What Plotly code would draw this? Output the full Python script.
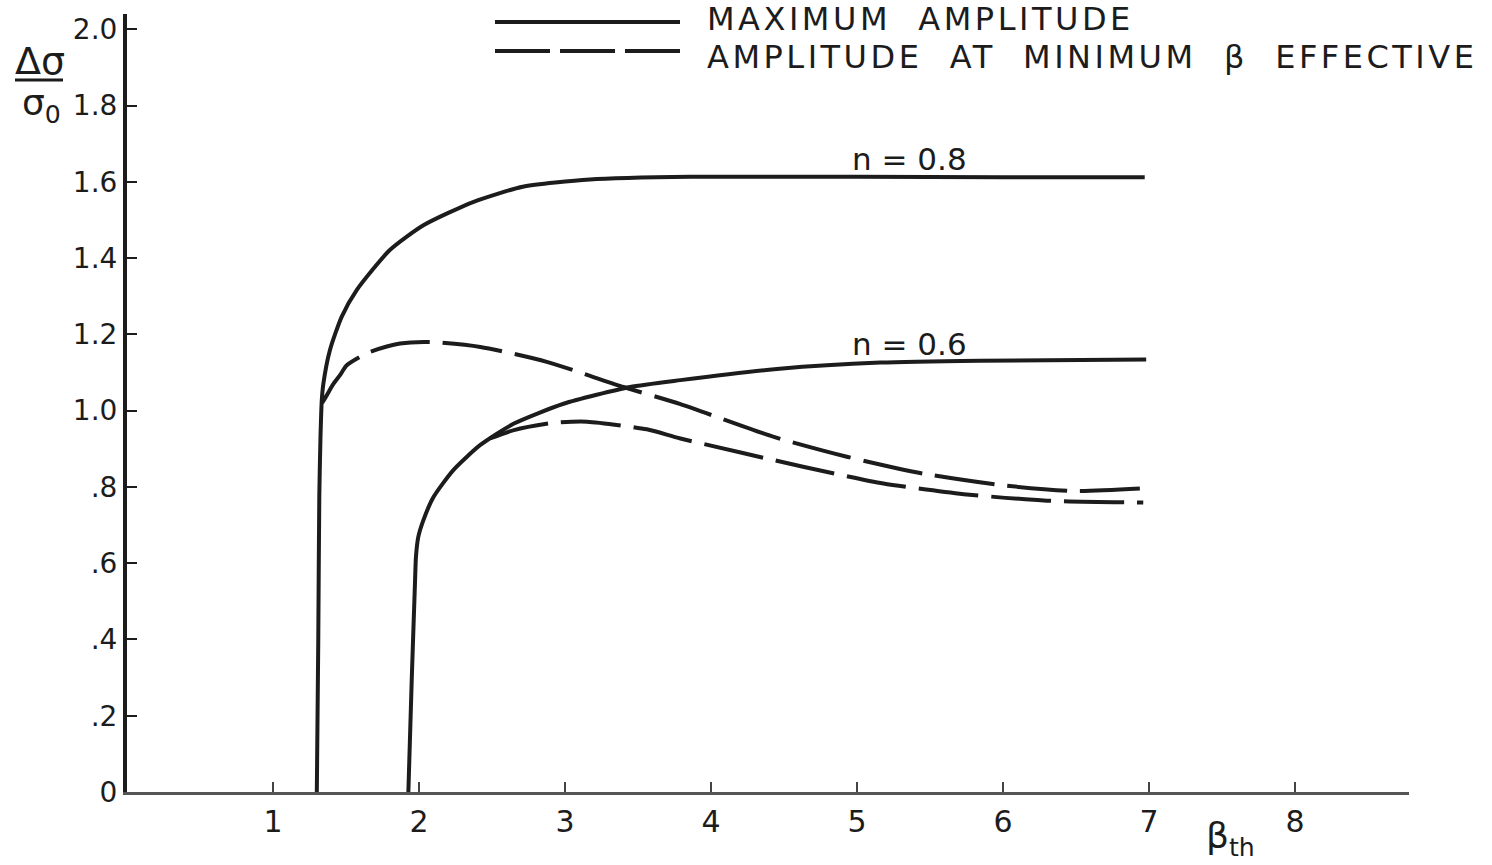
import plotly.graph_objects as go

# Maximum amplitude, n = 0.8
beta_max_08 = [1.30, 1.31, 1.317, 1.325, 1.334, 1.345, 1.39, 1.47, 1.573,
               1.80, 2.03, 2.37, 2.71, 3.17, 3.86, 5.0, 6.0, 6.97]
amp_max_08 = [0.0, 0.40, 0.774, 0.93, 1.027, 1.071, 1.159, 1.246, 1.316,
              1.421, 1.486, 1.547, 1.587, 1.606, 1.613, 1.613, 1.612, 1.612]

# Amplitude at minimum beta effective, n = 0.8
beta_min_08 = [1.336, 1.368, 1.41, 1.459, 1.505, 1.65, 1.87, 2.075, 2.42, 2.875, 3.40,
               3.79, 4.43, 4.93, 5.45, 5.98, 6.48, 6.96]
amp_min_08 = [1.02, 1.040, 1.068, 1.093, 1.119, 1.152, 1.176, 1.18, 1.167, 1.128, 1.062,
              1.017, 0.931, 0.879, 0.835, 0.805, 0.789, 0.796]

# Maximum amplitude, n = 0.6
beta_max_06 = [1.927, 1.95, 1.973, 1.979, 1.995, 2.03, 2.10, 2.235, 2.42, 2.65, 2.99,
               3.445, 3.79, 4.47, 5.16, 5.84, 6.98]
amp_max_06 = [0.0, 0.294, 0.556, 0.617, 0.669, 0.713, 0.774, 0.844, 0.910, 0.966, 1.018,
              1.062, 1.08, 1.11, 1.126, 1.131, 1.134]

# Amplitude at minimum beta effective, n = 0.6
beta_min_06 = [2.486, 2.65, 2.92, 3.15, 3.56, 3.79, 4.63, 5.18, 5.73, 6.30, 6.96]
amp_min_06 = [0.927, 0.949, 0.968, 0.971, 0.951, 0.927, 0.853, 0.809, 0.781, 0.764, 0.759]

x_ticks = [1, 2, 3, 4, 5, 6, 7, 8]
y_ticks = [0, 0.2, 0.4, 0.6, 0.8, 1.0, 1.2, 1.4, 1.6, 1.8, 2.0]
y_tick_text = ["0", ".2", ".4", ".6", ".8", "1.0", "1.2", "1.4", "1.6", "1.8", "2.0"]

curve_labels = ["n = 0.8", "n = 0.6"]
curve_label_pos = [(5.36, 1.661), (5.36, 1.176)]

W, H = 1492, 865
ML, MR, MT, MB = 127, 83, 14, 73
FONT = "DejaVu Sans"
INK = "#1c1c1c"
DASH = "60px,13px"


def px(xp):
    return (xp - ML) / (W - ML - MR)


def py(yp):
    return (H - MB - yp) / (H - MT - MB)


fig = go.Figure()
for xs, ys, dash in [(beta_max_08, amp_max_08, "solid"),
                     (beta_min_08, amp_min_08, DASH),
                     (beta_max_06, amp_max_06, "solid"),
                     (beta_min_06, amp_min_06, DASH)]:
    fig.add_trace(go.Scatter(
        x=xs, y=ys, mode="lines",
        line=dict(color=INK, width=4, dash=dash, shape="spline", smoothing=0.6),
        showlegend=False, hoverinfo="skip"))

annotations = []
for text, (ax, ay) in zip(curve_labels, curve_label_pos):
    annotations.append(dict(x=ax, y=ay, xref="x", yref="y", text=text,
                            xanchor="center", yanchor="middle",
                            showarrow=False, font=dict(family=FONT, size=31, color=INK)))

# key for the two line styles (wide, hand-lettered spacing)
legend_rows = [("MAXIMUM  AMPLITUDE", 19, 22, "solid"),
               ("AMPLITUDE  AT  MINIMUM  \u03b2  EFFECTIVE", 57, 51, "55px,10px")]
shapes = []
for text, ytext, yline, dash in legend_rows:
    shapes.append(dict(type="line", xref="paper", yref="paper",
                       x0=px(495), x1=px(680), y0=py(yline), y1=py(yline),
                       line=dict(color=INK, width=4, dash=dash)))
    annotations.append(dict(x=px(705), y=py(ytext), xref="paper", yref="paper",
                            xanchor="left", yanchor="middle",
                            text='<span style="letter-spacing:3.5px">' + text + "</span>",
                            showarrow=False,
                            font=dict(family=FONT, size=32, color=INK)))

# y-axis title as a fraction
annotations.append(dict(x=px(40), y=py(61), xref="paper", yref="paper",
                        xanchor="center", yanchor="middle",
                        text="\u0394\u03c3", showarrow=False,
                        font=dict(family=FONT, size=38, color=INK)))
shapes.append(dict(type="line", xref="paper", yref="paper",
                   x0=px(15), x1=px(63), y0=py(80), y1=py(80),
                   line=dict(color=INK, width=3)))
annotations.append(dict(x=px(20), y=py(106), xref="paper", yref="paper",
                        xanchor="left", yanchor="middle",
                        text="\u03c3<sub>0</sub>", showarrow=False,
                        font=dict(family=FONT, size=36, color=INK)))

# x-axis title
annotations.append(dict(x=px(1230), y=py(838), xref="paper", yref="paper",
                        xanchor="center", yanchor="middle",
                        text="\u03b2<sub>th</sub>", showarrow=False,
                        font=dict(family=FONT, size=36, color=INK)))

fig.update_layout(
    width=W, height=H,
    margin=dict(l=ML, r=MR, t=MT, b=MB),
    paper_bgcolor="white", plot_bgcolor="white",
    annotations=annotations, shapes=shapes,
    xaxis=dict(range=[0, 8.78], tickvals=x_ticks, ticktext=[str(v) for v in x_ticks],
               showgrid=False, zeroline=False, showline=True, linecolor="#555555",
               linewidth=3, ticks="inside", ticklen=10, tickwidth=2, tickcolor="#444444",
               ticklabelstandoff=1,
               tickfont=dict(family=FONT, size=30, color=INK)),
    yaxis=dict(range=[0, 2.04], tickvals=y_ticks, ticktext=y_tick_text,
               showgrid=False, zeroline=False, showline=True, linecolor=INK,
               linewidth=4, ticks="inside", ticklen=10, tickwidth=2, tickcolor=INK,
               ticklabelstandoff=0,
               tickfont=dict(family=FONT, size=28, color=INK)),
)

fig.write_html("out.html")
